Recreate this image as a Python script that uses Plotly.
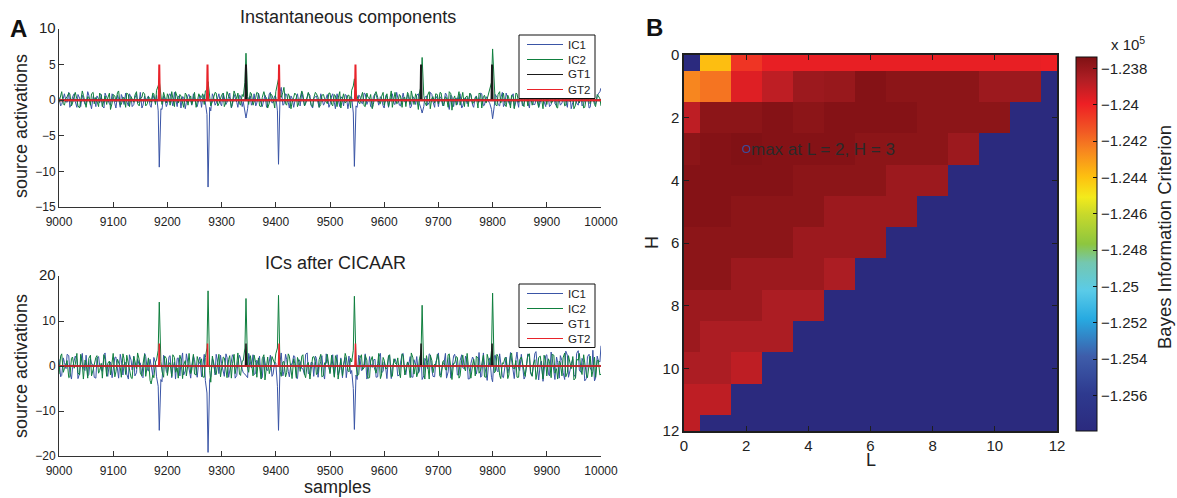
import plotly.graph_objects as go

# ---------------- data ----------------
SAMPLE_START = 9000
SAMPLE_STEP = 5
OFFSET_B = 3   # second decimated set sits 3 samples after the first

# Panel A (top): instantaneous ICA sources
# set "a": samples 9000, 9005, ... ; set "b": samples 9003, 9008, ...
ic1_instant_a = [
    0.4, -0.6, 0.9, -0.3, -1.0, 0.5, -0.2, 0.8, -0.9, 0.1, -0.5, 0.7, -1.2, 0.3, 0.6, -0.4, -0.8, 1.0, -0.1, -0.7,
    0.5, -1.1, 0.2, 0.8, -0.6, -0.2, 0.9, -0.9, 0.3, -0.4, 1.1, -0.7, -0.1, 0.6, -1.0, 0.4, 0.7, -9.4, -1.3, 0.3,
    -0.5, 0.9, -0.8, 0.2, 0.6, -1.1, 0.4, -0.3, 0.8, -0.7, 0.1, -0.9, 0.7, 0.3, -0.6, -12.2, -1.5, 0.5, -0.4, 0.9,
    -0.8, 0.2, -0.3, 1.0, -0.6, 0.4, -1.0, 0.6, -0.2, -2.5, 0.3, -0.7, 0.9, -0.4, 0.2, -0.9, 0.7, -0.5, 1.1, -0.3,
    0.5, -9.0, 1.8, -0.6, 0.8, -1.1, 0.3, -0.2, 0.9, -0.8, 0.4, -0.5, 1.0, -0.7, 0.2, 0.6, -1.0, 0.3, -0.4, 0.8,
    -0.6, 0.9, -1.2, 0.1, 0.5, -0.8, 0.7, -0.3, 0.4, -9.3, -1.0, 0.6, -0.5, 0.9, -0.2, -0.9, 0.5, 0.8, -0.7, 0.3,
    -1.1, 0.6, -0.2, 0.9, -0.6, 0.2, -0.8, 1.0, -0.4, 0.5, -0.9, 0.3, 0.7, -0.5, -1.8, 0.4, -0.7, 1.1, -0.2, 0.6,
    -0.9, 0.3, -0.4, 0.8, -1.3, 0.5, 0.1, -0.6, 0.9, -0.8, 0.4, -0.2, 0.7, -1.0, 0.6, -0.3, 0.9, -0.7, 0.2, -0.5,
    -2.6, 0.8, -0.6, 0.3, -0.9, 1.0, -0.4, 0.5, -1.1, 0.2, 0.7, -0.8, 0.4, -0.3, 0.9, -0.6, 0.1, -1.0, 0.6, -0.2,
    0.8, -0.9, 0.3, -0.5, 1.0, -0.7, 0.4, -0.2, 0.9, -1.2, 0.5, -0.4, 0.7, -0.8, 0.2, 0.6, -1.0, 0.3, -0.6, 0.9, 1.7,
]
ic1_instant_b = [
    -0.8, 0.6, -0.2, 1.1, -0.5, 0.9, -1.0, 0.3, 0.7, -0.6, 1.2, -0.3, 0.5, -0.9, 0.2, 0.8, -1.1, 0.4, -0.5, 0.9,
    -0.3, 0.7, -1.0, 0.2, 1.0, -0.8, 0.4, -0.6, 0.9, -0.2, -1.1, 0.6, 0.3, -0.7, 0.8, -0.4, -1.5, -1.2, 0.6, -0.9,
    0.8, -0.4, 1.1, -0.9, 0.3, 0.5, -1.2, 0.7, -0.1, 0.9, -0.6, 0.4, -1.0, 0.8, -2.0, -1.0, 0.9, -0.7, 0.3, -0.5,
    1.0, -0.6, 0.5, -1.1, 0.8, -0.3, 0.7, -0.9, -1.4, -1.2, 0.6, -0.2, -0.8, 1.0, -0.5, 0.4, -1.0, 0.9, -0.4, 0.6,
    -1.5, 1.2, -0.7, 0.9, -0.3, 0.6, -1.0, 0.4, -0.6, 1.1, -0.8, 0.2, 0.7, -1.1, 0.5, -0.4, 0.9, -0.7, 0.3, -1.0,
    0.6, -0.3, 0.9, -0.9, 0.2, 0.8, -1.2, 0.5, -1.8, -0.8, 0.7, -0.4, 1.0, -0.6, 0.3, -1.0, 0.9, -0.2, 0.5, -0.8,
    0.7, -1.0, 0.4, -0.5, 1.1, -0.7, 0.3, -0.2, 0.8, -1.1, 0.5, -0.6, 0.9, -1.2, -0.9, 0.6, -0.3, 0.8, -1.0, 0.2,
    0.5, -0.8, 1.0, -0.4, 0.7, -0.9, 0.3, 0.6, -1.1, 0.2, -0.5, 0.9, -0.7, 0.4, -0.2, 1.0, -0.8, 0.5, -0.3, -1.3,
    -0.9, 0.4, -0.8, 1.1, -0.5, 0.3, -0.7, 0.9, -0.2, -1.0, 0.6, -0.4, 0.8, -1.1, 0.5, -0.6, 1.0, -0.3, 0.7, -0.9,
    0.3, -0.6, 1.1, -0.8, 0.2, -0.4, 0.9, -1.0, 0.6, -0.3, 0.8, -0.7, 1.0, -0.5, 0.4, -1.1, 0.7, -0.2, 0.5, 1.2,
]
ic2_instant_a = [
    -0.3, 1.2, -0.7, 0.5, 0.9, -0.4, 1.1, -0.8, 0.2, 0.7, -1.0, 0.4, 0.9, -0.5, -0.2, 1.0, -0.9, 0.6, 0.3, -1.3,
    0.8, -0.2, 1.3, -0.6, 0.4, 1.0, -0.9, 0.2, 0.7, -0.5, 0.3, 1.1, -0.8, 0.5, -0.3, 0.9, 1.4, 2.7, -0.6, 0.5,
    0.9, -0.7, 0.3, 1.2, -0.4, 0.6, -1.0, 0.8, 0.2, -0.6, 1.1, -0.3, 0.5, 0.9, 1.3, 2.6, -0.8, 0.4, 1.0, -0.5,
    0.7, -0.9, 1.2, 0.3, -0.4, 0.8, 1.0, -0.7, 0.5, 6.6, -0.6, 0.9, -0.2, 1.1, -0.8, 0.4, 0.6, -1.1, 0.9, 0.2,
    1.2, 3.0, 0.4, 1.8, -0.7, 0.6, -0.3, 1.0, -0.9, 0.5, 0.8, -0.4, 1.1, -0.6, 0.3, 0.9, -1.0, 0.7, 0.2, -0.5,
    1.0, -0.8, 0.6, 0.3, -1.1, 0.9, -0.2, 0.7, 1.4, 3.0, 0.6, -0.5, 1.1, -0.9, 0.4, 0.8, -0.6, 1.2, -0.3, 0.5,
    -0.7, 0.9, 0.2, -1.0, 1.1, -0.4, 0.6, 0.3, -0.9, 0.8, 1.3, -0.6, 0.4, 1.0, 6.0, -0.3, 0.7, -1.2, 0.5, 0.9,
    -0.5, 1.0, -0.8, 0.3, 1.2, -1.4, 0.6, 0.1, -0.7, 1.1, 0.4, -0.9, 0.8, -0.3, 0.5, 1.0, -1.1, 0.7, 0.2, 1.3,
    7.2, -0.6, 0.8, -0.4, 1.0, -0.9, 0.3, 0.7, -1.2, 0.9, 0.2, -0.5, 1.1, -0.8, 0.6, -0.2, 1.0, -1.0, 0.4, 0.8,
    -0.6, 1.1, -0.3, 0.7, -1.1, 0.5, 0.9, -0.7, 0.2, 1.0, -1.2, 0.6, -0.4, 0.8, -1.0, 1.2, -0.5, 0.3, -0.9, 0.6, -0.8,
]
ic2_instant_b = [
    0.9, -0.5, 0.3, 1.0, -0.8, 0.6, 0.2, -1.1, 1.3, -0.3, 0.5, -0.7, 1.1, 0.4, -0.9, 0.7, 0.2, -0.6, 1.0, -0.4,
    0.6, 1.1, -0.7, 0.3, -1.0, 0.8, 0.5, -0.3, 1.2, -0.8, 0.4, 0.9, -0.5, 0.2, 1.0, -0.6, 2.0, 0.8, 1.1, -0.4,
    0.3, 1.2, -0.9, 0.5, 0.8, -0.4, 1.0, -0.7, 0.6, 0.2, -1.0, 0.9, 0.4, -0.6, 1.5, 0.9, -0.2, 1.1, -0.8, 0.4,
    1.0, -0.3, 0.6, -1.0, 1.3, 0.2, -0.5, 0.8, 2.5, 0.5, 1.1, -0.7, 0.4, 0.9, -0.9, 1.2, 0.3, -0.4, 0.7, -1.1,
    2.2, 0.6, 1.1, -0.5, 0.9, -1.2, 0.4, 0.7, -0.3, 1.3, -0.8, 0.5, 0.2, -0.9, 1.1, 0.4, -0.6, 0.8, -0.2, 1.0,
    -0.6, 0.8, -0.9, 1.2, 0.3, -0.4, 0.7, -1.1, 2.0, 0.9, -0.3, 0.6, -0.8, 1.0, 0.2, -1.2, 0.9, 0.4, -0.5, 1.1,
    0.3, -0.9, 1.3, 0.6, -0.5, 0.8, -1.0, 0.4, 1.1, -0.6, 0.2, 0.9, -1.3, 2.0, 0.7, -0.8, 1.2, 0.3, -0.4, 0.8,
    1.1, -0.6, 0.5, -1.0, 0.9, 0.2, -0.7, 1.2, 0.4, -0.9, 0.6, 1.0, -0.5, 0.3, -1.1, 0.8, 0.5, -0.4, 1.1, 2.5,
    0.9, -0.8, 1.2, 0.4, -0.6, 0.7, -1.1, 0.5, 1.0, -0.3, 0.8, -0.9, 0.3, 1.2, -0.7, 0.6, -0.4, 0.9, -1.2, 0.5,
    1.0, -0.4, 0.7, -1.0, 1.2, 0.3, -0.8, 0.6, -0.2, 1.1, -0.7, 0.4, 0.9, -1.1, 0.5, -0.3, 1.0, -0.6, 0.8, 0.2,
]

# Panel A (bottom): sources recovered by CICAAR
ic1_cicaar_a = [
    1.5, -2.1, 0.8, 2.6, -1.4, -0.3, 2.2, -2.8, 1.0, -0.6, 2.4, -1.9, 0.5, -2.5, 1.7, 0.2, -1.2, 2.9, -2.3, 0.9,
    -0.8, 2.0, -2.7, 1.3, 0.4, -1.8, 2.5, -0.9, -2.2, 1.6, 0.7, -2.6, 2.1, -1.1, 0.3, 1.9, -2.4, -14.3, -3.5, 1.2,
    -1.6, 2.3, -0.5, -2.9, 1.8, 0.6, -2.0, 2.7, -1.3, 0.2, 1.4, -2.5, 2.0, -0.7, -3.2, -19.2, -2.4, 1.1, 2.6, -1.7,
    0.5, -2.3, 1.9, -0.8, 2.5, -2.7, 0.9, 1.6, -1.5, -2.2, 2.8, -0.4, -1.9, 1.3, 2.2, -2.6, 0.7, -1.0, 2.4, -1.8,
    0.6, -14.3, 2.9, -1.2, 1.5, -2.4, 0.3, 2.1, -2.8, 1.0, -0.6, 2.6, -1.7, 0.8, -2.3, 1.7, -0.2, 2.3, -2.9, 1.1,
    -1.4, 2.5, -0.7, -2.0, 1.8, 0.4, -2.6, 2.2, -1.0, -14.1, -3.0, 1.9, -0.9, 2.7, -2.1, 0.5, 1.3, -2.5, 2.0, -1.5,
    0.9, -2.8, 2.4, -0.3, 1.6, -2.2, 0.7, 2.8, -1.9, 0.2, -2.4, 1.4, 2.1, -1.1, -3.0, 1.7, -0.6, 2.5, -2.3, 0.8,
    2.9, -1.6, 0.4, -2.7, 1.9, -0.8, 2.6, -2.0, 1.2, -0.4, 2.2, -2.9, 0.6, 1.5, -1.8, 3.0, -2.2, 0.3, -3.2, 1.8,
    -3.5, 2.4, -1.3, 0.9, -2.6, 2.0, -0.5, 1.4, -2.8, 3.1, -1.0, 0.6, -2.4, 2.7, -1.7, 0.2, 3.2, -3.1, 1.1, -0.7,
    2.5, -2.2, 1.6, -3.0, 0.8, 2.3, -1.4, 3.3, -2.5, 0.5, -1.9, 2.8, -0.9, 1.7, -3.3, 2.1, -0.4, 3.5, -2.7, 1.2, 4.5,
]
ic1_cicaar_b = [
    -2.4, 1.8, -0.6, 2.3, -2.9, 0.9, 1.4, -1.7, 2.8, -1.0, -2.2, 1.6, 0.3, -2.7, 2.1, -0.8, 2.5, -1.4, 0.6, -2.6,
    1.9, -0.4, 2.6, -2.0, 0.8, -2.9, 1.3, 2.2, -1.5, 0.2, -2.3, 2.8, -0.9, 1.5, -2.1, 0.7, -4.5, -3.0, 2.4, -1.2,
    2.1, -2.6, 0.9, 1.7, -2.2, 2.9, -1.1, 0.4, -2.7, 2.3, -0.5, 1.2, -2.4, 2.6, -6.0, -3.0, 1.6, -2.0, 0.8, 2.4,
    -1.3, 2.7, -2.5, 0.6, 1.8, -2.1, 2.4, -0.7, -1.8, -2.6, 1.1, 2.5, -1.6, 0.3, -2.8, 2.0, -0.9, 1.7, -2.3, 0.9,
    -4.5, 1.0, -2.2, 2.6, -1.2, 0.5, 2.3, -2.7, 1.4, -0.6, -2.0, 2.9, -1.5, 0.7, 2.2, -2.5, 1.0, -1.8, 2.7, -0.4,
    1.6, -2.3, 2.5, -0.8, -2.6, 1.9, 0.4, -1.7, -5.0, -2.0, 2.4, -1.0, 0.6, -2.9, 2.1, -0.3, 1.5, -2.4, 2.8, -1.2,
    -0.7, 2.3, -2.8, 1.2, 0.5, -2.0, 2.6, -1.4, 0.9, 2.1, -2.5, 0.2, -1.6, 2.4, -2.2, 1.0, 2.7, -0.9, -2.4, 1.8,
    -2.1, 0.6, 2.8, -1.3, -2.7, 2.2, 0.9, -1.9, 2.5, -0.6, 1.3, -2.8, 2.0, -1.1, 0.4, -2.5, 2.9, -1.7, 1.1, -2.6,
    2.2, -1.0, 2.7, -2.4, 0.8, -1.6, 3.0, -2.1, 1.5, -0.5, 2.6, -2.9, 0.7, 1.9, -2.2, 2.8, -1.3, 0.5, -3.4, 2.3,
    -1.8, 3.1, -0.7, 2.0, -2.7, 1.2, -3.0, 2.4, -0.9, 1.6, -2.5, 3.4, -1.4, 0.8, -2.8, 2.6, -1.1, -3.3, 2.2, 0.9,
]
ic2_cicaar_a = [
    -1.8, 2.7, -0.6, 1.2, -2.4, 2.0, 0.3, -1.5, 2.6, -2.9, 0.8, 1.7, -2.2, 0.4, 2.3, -1.0, -2.7, 1.4, 0.6, -2.0,
    2.8, -1.3, 0.9, -2.5, 1.6, 2.4, -0.7, -2.8, 1.1, 2.9, -1.6, 0.5, -2.3, 1.8, -4.0, -2.6, 1.3, 14.2, -1.2, 2.2,
    -2.1, 0.7, 2.5, -1.4, -2.7, 1.5, 0.2, -2.2, 2.8, -0.9, -1.8, 2.1, 0.6, -2.4, 1.9, 16.7, -3.6, 0.4, -1.9, 2.6,
    -0.8, 1.8, -2.6, 2.3, 0.5, -1.7, 2.9, -2.1, 1.2, 15.0, -1.4, 0.9, 2.4, -2.5, 0.3, 1.6, -3.1, 2.0, -0.6, 1.3,
    2.7, 15.7, -2.3, 1.0, -1.5, 2.2, -2.8, 0.6, 1.9, -1.2, 2.5, -2.6, 0.8, -0.3, 2.1, -1.9, 1.4, -2.4, 0.7, 2.6,
    -1.7, 0.2, 2.3, -2.9, 1.5, -0.5, 2.0, -1.3, 0.9, 15.5, -2.2, 1.7, -0.8, 2.4, -2.7, 1.1, 0.3, -1.6, 2.8, -2.0,
    1.3, -0.4, 2.5, -2.3, 0.7, 1.8, -2.6, 2.2, -1.0, 0.5, 2.9, -1.8, -2.4, 1.6, 13.5, -2.9, 0.8, 2.4, -1.5, -0.2,
    2.0, -2.5, 1.2, -0.9, 2.7, -3.0, 0.6, 1.9, -2.2, 2.4, -1.1, 0.4, -2.7, 1.5, 2.2, -1.6, 0.9, -2.4, 2.6, 0.2,
    16.2, -1.3, 2.1, -2.8, 0.5, 1.7, -2.0, 2.9, -0.7, -2.5, 1.4, 0.8, -2.3, 2.5, -1.2, 0.3, -3.0, 1.9, -0.5, 2.4,
    -2.2, 1.0, 2.6, -1.6, -2.9, 0.7, 1.8, -2.4, 2.3, -0.6, -3.1, 1.5, 2.8, -1.9, 0.4, -2.6, 2.2, -1.1, -2.5, 1.3, -1.8,
]
ic2_cicaar_b = [
    2.2, -1.4, 0.9, -2.6, 1.7, -0.5, 2.8, -2.0, 0.4, 1.3, -2.7, 2.4, -0.8, 1.9, -1.6, 0.6, 2.5, -2.3, 1.1, 0.3,
    -2.4, 1.5, -0.3, 2.7, -1.9, 0.8, -2.6, 2.1, -0.6, 1.4, -2.2, 2.6, 0.2, -3.2, -2.0, 0.9, 3.5, 1.0, -2.5, 1.7,
    0.6, -2.3, 1.9, -0.4, 2.4, -2.8, 1.2, 0.5, -1.7, 2.6, -2.0, 0.8, 1.6, -2.5, 4.0, -1.0, 2.2, -1.5, 0.3, -2.4,
    2.0, -0.9, 1.5, -2.7, 2.6, 0.4, -1.8, 1.1, 4.0, -0.5, 2.3, -2.2, 0.7, 1.8, -2.9, 2.5, -0.6, -1.7, 2.1, 0.5,
    4.0, -1.2, 0.9, -2.4, 2.7, -0.3, 1.6, -2.6, 0.8, 2.2, -1.8, 0.4, -2.9, 2.0, 1.0, -1.4, 2.6, -2.1, 0.6, -0.9,
    2.4, -2.5, 1.1, 0.6, -2.2, 2.8, -1.0, 1.7, 3.5, 0.7, -1.9, 2.5, -0.4, 1.3, -2.6, 2.1, -1.2, 0.5, -2.8, 1.9,
    -0.7, 2.2, -2.4, 1.6, 0.3, -1.5, 2.7, -2.0, 0.9, -2.6, 1.8, 0.5, -1.1, 3.0, -1.6, 2.3, -2.9, 1.2, 0.4, 2.6,
    -2.3, 1.0, -0.8, 2.5, -1.9, 0.6, 2.1, -2.7, 1.4, -0.5, 2.8, -1.3, 0.2, -2.2, 1.7, -0.9, 2.4, -2.5, 1.0, 3.5,
    -1.5, 2.6, -2.1, 0.7, 1.9, -2.8, 2.3, -0.4, 1.2, -2.5, 2.0, -1.7, 0.5, 2.7, -2.3, 1.4, -0.8, 2.2, -2.9, 0.9,
    1.6, -2.6, 2.4, -0.6, 1.1, -2.2, 2.9, -1.5, 0.3, 2.1, -2.7, 1.3, -0.9, 2.5, -1.9, 0.8, -2.4, 2.0, 1.2, -2.0,
]

# Ground-truth event times (samples) and their amplitude
gt1_events = [9345, 9668, 9799]
gt2_events = [9185, 9274, 9406, 9547]
gt_amplitude = 5

series_names = ["IC1", "IC2", "GT1", "GT2"]
series_colors = ["#3A55A6", "#0F7F3E", "#1A1A1A", "#E8232A"]

x_ticks = list(range(9000, 10001, 100))

# Panel B: BIC (x 10^5) for model orders L (columns) and H (rows);
# -1.26 marks models below the colour range
L_orders = list(range(13))
H_orders = list(range(13))
bic_e5 = [
    [-1.2600, -1.2439, -1.2405, -1.2398, -1.2398, -1.2398, -1.2398, -1.2398, -1.2398, -1.2398, -1.2398, -1.2398, -1.2399],
    [-1.2425, -1.2421, -1.2396, -1.2389, -1.2381, -1.2380, -1.2375, -1.2377, -1.2377, -1.2377, -1.2381, -1.2381, -1.2600],
    [-1.2389, -1.2377, -1.2377, -1.2375, -1.2377, -1.2375, -1.2375, -1.2375, -1.2377, -1.2377, -1.2377, -1.2600, -1.2600],
    [-1.2377, -1.2375, -1.2374, -1.2375, -1.2375, -1.2375, -1.2377, -1.2377, -1.2377, -1.2381, -1.2600, -1.2600, -1.2600],
    [-1.2375, -1.2375, -1.2375, -1.2375, -1.2377, -1.2377, -1.2377, -1.2381, -1.2381, -1.2600, -1.2600, -1.2600, -1.2600],
    [-1.2375, -1.2375, -1.2377, -1.2377, -1.2377, -1.2381, -1.2381, -1.2381, -1.2600, -1.2600, -1.2600, -1.2600, -1.2600],
    [-1.2377, -1.2377, -1.2377, -1.2377, -1.2381, -1.2381, -1.2381, -1.2600, -1.2600, -1.2600, -1.2600, -1.2600, -1.2600],
    [-1.2377, -1.2377, -1.2381, -1.2381, -1.2381, -1.2385, -1.2600, -1.2600, -1.2600, -1.2600, -1.2600, -1.2600, -1.2600],
    [-1.2381, -1.2381, -1.2381, -1.2385, -1.2385, -1.2600, -1.2600, -1.2600, -1.2600, -1.2600, -1.2600, -1.2600, -1.2600],
    [-1.2381, -1.2385, -1.2385, -1.2385, -1.2600, -1.2600, -1.2600, -1.2600, -1.2600, -1.2600, -1.2600, -1.2600, -1.2600],
    [-1.2385, -1.2385, -1.2389, -1.2600, -1.2600, -1.2600, -1.2600, -1.2600, -1.2600, -1.2600, -1.2600, -1.2600, -1.2600],
    [-1.2389, -1.2389, -1.2600, -1.2600, -1.2600, -1.2600, -1.2600, -1.2600, -1.2600, -1.2600, -1.2600, -1.2600, -1.2600],
    [-1.2389, -1.2600, -1.2600, -1.2600, -1.2600, -1.2600, -1.2600, -1.2600, -1.2600, -1.2600, -1.2600, -1.2600, -1.2600],
]
best_L, best_H = 2, 3
bic_ticks = [-1.238, -1.240, -1.242, -1.244, -1.246, -1.248, -1.250, -1.252, -1.254, -1.256]
bic_ticktext = ["−1.238", "−1.24", "−1.242", "−1.244", "−1.246", "−1.248", "−1.25", "−1.252", "−1.254", "−1.256"]
BIC_MIN, BIC_MAX = -1.25796, -1.23736

# ---------------- figure geometry (pixels) ----------------
W, H = 1177, 498
FONT = "Arial, Liberation Sans, Helvetica, sans-serif"
TXT = "#222222"


def px(x):
    return x / W


def py(y):
    return 1 - y / H


def merge_sets(a_vals, b_vals):
    """Interleave the two decimated sample sets into one time-ordered trace."""
    pts = [(SAMPLE_START + SAMPLE_STEP * i, v) for i, v in enumerate(a_vals)]
    pts += [(SAMPLE_START + OFFSET_B + SAMPLE_STEP * i, v) for i, v in enumerate(b_vals)]
    pts.sort()
    return [p[0] for p in pts], [p[1] for p in pts]


def spike_train(events, amp):
    xs, ys = [SAMPLE_START], [0]
    for e in events:
        xs += [e - 1, e, e + 1]
        ys += [0, amp, 0]
    xs.append(SAMPLE_START + 1000)
    ys.append(0)
    return xs, ys


# printed-jet colour map
jet_print = [
    [0.00, "#2B2A7E"], [0.10, "#2E3A8F"], [0.20, "#3E5DAA"], [0.30, "#27AAE1"],
    [0.375, "#5ACBE8"], [0.45, "#74C7B0"], [0.50, "#8DC63F"], [0.58, "#C8D92B"],
    [0.625, "#F3EA1C"], [0.68, "#FDC010"], [0.75, "#F7861F"], [0.80, "#F15A24"],
    [0.875, "#EE1F24"], [0.94, "#B01E24"], [1.00, "#7F1114"],
]

fig = go.Figure()

# ---------------- Panel B: BIC heat map ----------------
fig.add_trace(go.Heatmap(
    x=L_orders, y=H_orders, z=bic_e5, xaxis="x3", yaxis="y3",
    colorscale=jet_print, zmin=BIC_MIN, zmax=BIC_MAX, showscale=True,
    colorbar=dict(
        x=px(1076), xanchor="left", y=py(57), yanchor="top",
        len=374 / H, lenmode="fraction", thickness=21, thicknessmode="pixels",
        xpad=0, ypad=0, outlinewidth=1, outlinecolor="#111111",
        tickvals=bic_ticks, ticktext=bic_ticktext, ticks="inside", ticklen=4,
        tickcolor="#111111", tickfont=dict(family=FONT, size=15, color=TXT),
    ),
    hoverinfo="skip",
))
fig.add_trace(go.Scatter(
    x=[best_L], y=[best_H], xaxis="x3", yaxis="y3", mode="markers",
    marker=dict(symbol="circle-open", size=7, color="#3B4FA0", line=dict(width=1.2)),
    showlegend=False, hoverinfo="skip",
))

# ---------------- Panel A: source activations ----------------
panels = [
    ("x", "y", (ic1_instant_a, ic1_instant_b), (ic2_instant_a, ic2_instant_b), 2.0),
    ("x2", "y2", (ic1_cicaar_a, ic1_cicaar_b), (ic2_cicaar_a, ic2_cicaar_b), 1.5),
]
for xa, ya, ic1, ic2, gt_w in panels:
    sx, sy = merge_sets(*ic1)
    fig.add_trace(go.Scatter(x=sx, y=sy, xaxis=xa, yaxis=ya, mode="lines",
                             line=dict(color=series_colors[0], width=1), name="IC1",
                             showlegend=False))
    sx, sy = merge_sets(*ic2)
    fig.add_trace(go.Scatter(x=sx, y=sy, xaxis=xa, yaxis=ya, mode="lines",
                             line=dict(color=series_colors[1], width=1), name="IC2",
                             showlegend=False))
    gx, gy = spike_train(gt1_events, gt_amplitude)
    fig.add_trace(go.Scatter(x=gx, y=gy, xaxis=xa, yaxis=ya, mode="lines",
                             line=dict(color=series_colors[2], width=gt_w), name="GT1",
                             showlegend=False))
    gx, gy = spike_train(gt2_events, gt_amplitude)
    fig.add_trace(go.Scatter(x=gx, y=gy, xaxis=xa, yaxis=ya, mode="lines",
                             line=dict(color=series_colors[3], width=gt_w), name="GT2",
                             showlegend=False))

axis_col = "#333333"
tick_font = dict(family=FONT, size=12, color=TXT)
time_x = dict(range=[9000, 10000], tickvals=x_ticks, ticktext=[str(t) for t in x_ticks],
              ticks="inside", ticklen=5, automargin=False,
              tickcolor=axis_col, showline=True, linecolor=axis_col, linewidth=1,
              showgrid=False, zeroline=False, tickfont=tick_font, ticklabelstandoff=4)
time_y = dict(ticks="inside", ticklen=5, tickcolor=axis_col, showline=True, automargin=False,
              linecolor=axis_col, linewidth=1, showgrid=False, zeroline=False,
              tickfont=tick_font)

box_col = "#1E1E1E"
heat_ticks = list(range(0, 13, 2))
heat_ax = dict(ticks="inside", ticklen=5, tickcolor=box_col, showline=True, mirror="ticks",
               linecolor=box_col, linewidth=1.5, showgrid=False, zeroline=False, automargin=False,
               tickfont=dict(family=FONT, size=15, color=TXT), tickvals=heat_ticks,
               ticktext=[str(t) for t in heat_ticks])

fig.update_layout(
    width=W, height=H, autosize=False,
    # fixed margins: nothing (colour bar, edge labels) may shrink the plotting area
    margin=dict(l=0, r=0, t=0, b=0, pad=0, autoexpand=False),
    paper_bgcolor="white", plot_bgcolor="white",
    font=dict(family=FONT, color=TXT),
    showlegend=False,
    xaxis=dict(domain=[px(59), px(601)], anchor="y", **time_x),
    yaxis=dict(domain=[py(207), py(29)], anchor="x", range=[-15, 10],
               tickvals=[-15, -10, -5, 0, 5, 10],
               ticktext=["−15", "−10", "−5", "0", "5", '<span style="font-size:15px">10</span>'],
               **time_y),
    xaxis2=dict(domain=[px(59), px(601)], anchor="y2", **time_x),
    yaxis2=dict(domain=[py(456), py(276)], anchor="x2", range=[-20, 20],
                tickvals=[-20, -10, 0, 10, 20],
                ticktext=["−20", "−10", "0", "10", '<span style="font-size:15px">20</span>'],
                **time_y),
    xaxis3=dict(domain=[px(684), px(1057)], anchor="y3", range=[0, 12], **heat_ax),
    yaxis3=dict(domain=[py(431), py(55)], anchor="x3", range=[12, 0], **heat_ax),
)

# ---------------- text ----------------
def note(text, x, y, size, angle=0, bold=False, xanchor="center", color=TXT):
    fig.add_annotation(text=f"<b>{text}</b>" if bold else text, x=px(x), y=py(y),
                       xref="paper", yref="paper", showarrow=False, textangle=angle,
                       xanchor=xanchor, yanchor="middle",
                       font=dict(family=FONT, size=size, color=color))


note("A", 18, 28, 24, bold=True, color="#111111")
note("B", 654, 27, 24, bold=True, color="#111111")
note("Instantaneous components", 348, 17, 18)
note("ICs after CICAAR", 335, 263, 18)
note("source activations", 21, 126, 18, angle=-90)
note("source activations", 21, 366, 18, angle=-90)
note("samples", 337, 487, 18)
note("L", 871, 460, 18)
note("H", 652, 243, 18, angle=-90)
note("Bayes Information Criterion", 1165, 237, 18.5, angle=-90)
note("x 10<sup>5</sup>", 1109, 44, 15, xanchor="left")

fig.add_annotation(text=f"max at L = {best_L}, H = {best_H}", x=best_L + 0.1, y=best_H,
                   xref="x3", yref="y3", showarrow=False, xanchor="left", yanchor="middle",
                   font=dict(family=FONT, size=17, color="#2A2A2A"))

# ---------------- legends ----------------
legend_rows = [44.5, 59.5, 74.5, 89.5]
for dy in (0, 249):
    fig.add_shape(type="rect", xref="paper", yref="paper",
                  x0=px(519), x1=px(595), y0=py(35 + dy), y1=py(98.5 + dy),
                  line=dict(color="#111111", width=1), fillcolor="white", layer="above")
    for name, col, ry in zip(series_names, series_colors, legend_rows):
        fig.add_shape(type="line", xref="paper", yref="paper",
                      x0=px(527), x1=px(563), y0=py(ry + dy), y1=py(ry + dy),
                      line=dict(color=col, width=1), layer="above")
        note(name, 566, ry + dy, 11.5, xanchor="left")

fig.write_html("out.html", config={"displayModeBar": False})
